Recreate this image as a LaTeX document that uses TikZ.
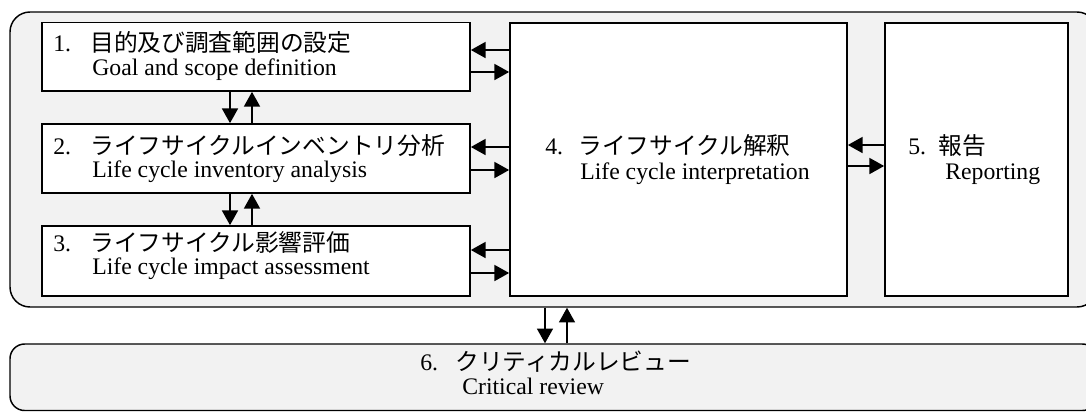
\documentclass[tikz,border=0pt]{standalone}
\usepackage{fontspec}
\setmainfont{Liberation Serif}
\newfontfamily\jpfont{Noto Sans CJK JP}
\usetikzlibrary{arrows.meta,fit}
\definecolor{panel}{RGB}{242,242,242}
\begin{document}
\begin{tikzpicture}[x=0.75pt,y=-0.75pt,
  panelbox/.style={draw, line width=1.1pt, fill=panel, rounded corners=15pt, inner sep=0pt},
  stage/.style={draw, line width=1.3pt, fill=white, inner sep=0pt},
  lbl/.style={anchor=base west, inner sep=0pt, font=\fontsize{17.8pt}{20pt}\selectfont},
  jlbl/.style={anchor=base west, inner sep=0pt, font=\fontsize{17.8pt}{20pt}\selectfont\jpfont},
  flow/.style={line width=1.1pt, -{Triangle[length=11pt,width=12pt]}}
]
\useasboundingbox (0,0) rectangle (1086,412);

% outer panels
\node[panelbox, fit={(10,12) (1097,307)}] (lca) {};
\node[panelbox, rounded corners=11pt, fit={(10,344) (1097,410.5)}] (review) {};

% phase boxes
\node[stage, fit={(42,22.5) (470,91)}] (goal) {};
\node[stage, fit={(42,124) (470,193)}] (inventory) {};
\node[stage, fit={(42,226) (470,296)}] (impact) {};
\node[stage, fit={(510,23) (847,296)}] (interp) {};
\node[stage, fit={(885,23) (1068,296)}] (report) {};

% labels
\node[lbl]  (n1)  at (53,51)  {1.};
\node[jlbl] (j1)  at (90,51)  {目的及び調査範囲の設定};
\node[lbl]  (e1)  at (92,75)  {Goal and scope definition};
\node[lbl]  (n2)  at (53,154) {2.};
\node[jlbl] (j2)  at (90,154) {ライフサイクルインベントリ分析};
\node[lbl]  (e2)  at (92,177) {Life cycle inventory analysis};
\node[lbl]  (n3)  at (53,251) {3.};
\node[jlbl] (j3)  at (90,251) {ライフサイクル影響評価};
\node[lbl]  (e3)  at (92,274) {Life cycle impact assessment};
\node[lbl]  (n4)  at (545,154) {4.};
\node[jlbl] (j4)  at (578,154) {ライフサイクル解釈};
\node[lbl]  (e4)  at (580,179) {Life cycle interpretation};
\node[lbl]  (n5)  at (908,154) {5.};
\node[jlbl] (j5)  at (938,154) {報告};
\node[lbl]  (e5)  at (945,179) {Reporting};
\node[lbl]  (n6)  at (420,370) {6.};
\node[jlbl] (j6)  at (455,370) {クリティカルレビュー};
\node[lbl]  (e6)  at (462,394) {Critical review};

% guide coordinates for arrow positions
\coordinate (vdown) at (230,0);
\coordinate (vup)   at (252,0);
\coordinate (h1l) at (0,50);
\coordinate (h1r) at (0,72);
\coordinate (h2l) at (0,147);
\coordinate (h2r) at (0,170);
\coordinate (h3l) at (0,250);
\coordinate (h3r) at (0,273);
\coordinate (h5l) at (0,145);
\coordinate (h5r) at (0,166);
\coordinate (rdown) at (545,0);
\coordinate (rup)   at (567,0);

% vertical flows between phases 1-2-3
\draw[flow] (vdown |- goal.south) -- (vdown |- inventory.north);
\draw[flow] (vup |- inventory.north) -- (vup |- goal.south);
\draw[flow] (vdown |- inventory.south) -- (vdown |- impact.north);
\draw[flow] (vup |- impact.north) -- (vup |- inventory.south);

% flows to and from interpretation
\draw[flow] (interp.west |- h1l) -- (goal.east |- h1l);
\draw[flow] (goal.east |- h1r) -- (interp.west |- h1r);
\draw[flow] (interp.west |- h2l) -- (inventory.east |- h2l);
\draw[flow] (inventory.east |- h2r) -- (interp.west |- h2r);
\draw[flow] (interp.west |- h3l) -- (impact.east |- h3l);
\draw[flow] (impact.east |- h3r) -- (interp.west |- h3r);
\draw[flow] (report.west |- h5l) -- (interp.east |- h5l);
\draw[flow] (interp.east |- h5r) -- (report.west |- h5r);

% flows to and from critical review
\draw[flow] (rdown |- lca.south) -- (rdown |- review.north);
\draw[flow] (rup |- review.north) -- (rup |- lca.south);
\end{tikzpicture}
\end{document}
